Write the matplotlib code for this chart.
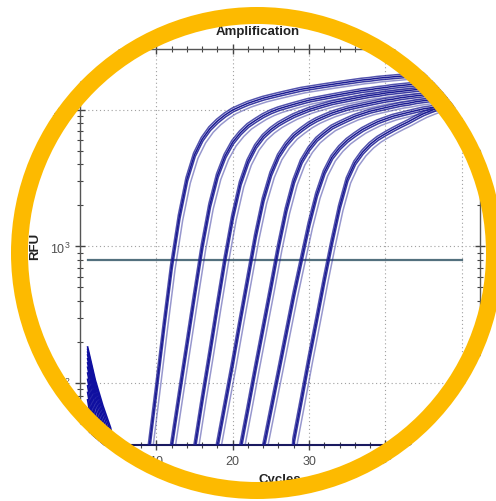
import numpy as np
import matplotlib
matplotlib.use("Agg")
import matplotlib.pyplot as plt
from matplotlib.path import Path
from matplotlib.patches import PathPatch, Circle
from matplotlib.ticker import MultipleLocator, LogLocator, NullFormatter

plt.rcParams['font.family'] = ['Liberation Sans', 'DejaVu Sans']

# amplification curves, one base curve per dilution group (RFU from the first rising cycle on)
G_START = [9, 12, 15, 18, 21, 24, 28]
G1_RFU = [32, 90, 260, 720, 1650, 3100, 4700, 6100, 7300, 8300, 9200, 10000, 10600, 11200,
          11700, 12200, 12600, 13000, 13400, 13800, 14200, 14500, 14800, 15100, 15400, 15700,
          16000, 16300, 16600, 16800, 17100, 17300, 17500, 17700, 17900, 18100, 18300, 18500,
          18600, 18800, 18900, 19000]
G2_RFU = [35, 82, 190, 440, 1000, 2000, 3300, 4600, 5800, 6800, 7700, 8400, 9100, 9700, 10200,
          10600, 11000, 11400, 11800, 12100, 12400, 12700, 13000, 13300, 13600, 13900, 14100,
          14400, 14600, 14900, 15100, 15300, 15500, 15700, 15900, 16100, 16200, 16400, 16500]
G3_RFU = [33, 75, 165, 370, 810, 1650, 2900, 4200, 5400, 6400, 7200, 7900, 8500, 9100, 9600,
          10100, 10500, 10900, 11300, 11600, 11900, 12200, 12500, 12800, 13000, 13300, 13500,
          13700, 13900, 14100, 14300, 14500, 14600, 14800, 14900, 15000]
G4_RFU = [35, 70, 140, 290, 590, 1200, 2200, 3400, 4600, 5600, 6500, 7200, 7900, 8500, 9000,
          9500, 9900, 10300, 10600, 10900, 11200, 11500, 11800, 12000, 12300, 12500, 12700,
          12900, 13100, 13300, 13400, 13600, 13700]
G5_RFU = [33, 65, 130, 255, 500, 1000, 1850, 3000, 4200, 5200, 6100, 6800, 7500, 8000, 8500,
          9000, 9400, 9800, 10100, 10400, 10700, 11000, 11200, 11500, 11700, 11900, 12100,
          12300, 12400, 12600]
G6_RFU = [33, 63, 120, 230, 440, 800, 1450, 2400, 3500, 4500, 5300, 6000, 6600, 7200, 7700,
          8200, 8600, 9000, 9300, 9600, 9900, 10200, 10400, 10700, 10900, 11100, 11300]
G7_RFU = [38, 75, 150, 290, 570, 1080, 1950, 3100, 4100, 4900, 5600, 6200, 6700, 7200, 7700,
          8200, 8800, 9400, 9900, 10400, 10900, 11300, 11700]
GROUPS = [G1_RFU, G2_RFU, G3_RFU, G4_RFU, G5_RFU, G6_RFU, G7_RFU]

# replicate wells: cycle offset and relative height against the group curve
REP_SHIFT = [-0.12, 0.0, 0.1, 0.45]
REP_SCALE = [1.03, 1.0, 0.97, 0.94]
REP_ALPHA = [0.75, 1.0, 0.85, 0.45]

# early cycles (1..5) of the wells, falling baseline
EARLY_CYCLES = [1, 2, 3, 4, 5]
EARLY_RFU = [
    [183, 105, 68, 47, 25], [176, 100, 64, 44, 22], [168, 94, 60, 40, 18],
    [160, 88, 55, 36, 15], [150, 82, 50, 33, 10], [140, 75, 45, 28, 8],
    [130, 68, 40, 24, 5], [118, 60, 36, 20, 5], [106, 53, 32, 15, 5],
    [95, 46, 27, 10, 5], [85, 40, 22, 8, 5], [75, 35, 18, 5, 5],
    [62, 30, 12, 5, 5], [50, 24, 8, 5, 5], [40, 18, 5, 5, 5],
]

THRESHOLD = 800
THR_RANGE = [1, 50]
BELOW = 5   # baseline value, below the plotted range

W, H = 496, 502
fig = plt.figure(figsize=(W / 100, H / 100), dpi=100)
ax = fig.add_axes([80 / W, 1 - 446 / H, 400 / W, 396 / H])

blue = '#1a1a92'
ax.plot(THR_RANGE, [THRESHOLD, THRESHOLD], color='#53707e', lw=1.6, zorder=2)

for row in EARLY_RFU:
    ax.plot(EARLY_CYCLES, row, color='#0f0fa0', lw=1.2, zorder=3)

for start, vals in zip(G_START, GROUPS):
    x = np.arange(start - 1, start + len(vals))
    y = np.array([BELOW] + vals, dtype=float)
    for sh, sc, al in zip(REP_SHIFT, REP_SCALE, REP_ALPHA):
        ax.plot(x + sh, y * sc, color=blue, lw=1.1, alpha=al, zorder=3,
                solid_joinstyle='round')

ax.set_yscale('log')
ax.set_xlim(0, 52.4)
ax.set_ylim(35, 28000)

ax.xaxis.set_major_locator(MultipleLocator(10))
ax.xaxis.set_minor_locator(MultipleLocator(2))
ax.yaxis.set_major_locator(LogLocator(base=10))
ax.yaxis.set_minor_locator(LogLocator(base=10, subs=np.arange(2, 10)))
ax.yaxis.set_minor_formatter(NullFormatter())
ax.set_xticks([10, 20, 30, 40, 50])
ax.set_xticklabels(['10', '20', '30', '40', '50'])

ax.tick_params(which='both', direction='inout', top=True, right=True,
               color='#444444', labelsize=9, labelcolor='#505050')
ax.tick_params(which='major', length=7, width=1)
ax.tick_params(which='minor', length=4.3, width=0.8)
ax.tick_params(which='both', axis='x', top=True)
for s in ax.spines.values():
    s.set_color('#555555')
    s.set_linewidth(1.0)
ax.spines['bottom'].set_color('#1a1a60')
ax.spines['bottom'].set_linewidth(1.5)

ax.grid(True, which='major', color='#a0a0a0', linestyle=(0, (1, 2.5)), lw=0.8)
ax.set_axisbelow(True)

fig.text(258 / W, 1 - 32 / H, 'Amplification', ha='center', va='center',
         fontsize=9.5, fontweight='bold', color='#222222')
fig.text(280 / W, 1 - 480 / H, 'Cycles', ha='center', va='center',
         fontsize=9.5, fontweight='bold', color='#222222')
fig.text(35 / W, 1 - 246 / H, 'RFU', ha='center', va='center', rotation=90,
         fontsize=9.5, fontweight='bold', color='#222222')

# round frame: white outside, orange ring
cx, cy = 257 / 100, (H - 254) / 100
r_in, r_out = 2.29, 2.46
t = np.linspace(0, 2 * np.pi, 400)
outer = [(0, 0), (W / 100, 0), (W / 100, H / 100), (0, H / 100), (0, 0)]
hole = list(zip(cx + r_out * np.cos(t)[::-1], cy + r_out * np.sin(t)[::-1]))
verts = outer + hole
codes = [Path.MOVETO] + [Path.LINETO] * 3 + [Path.CLOSEPOLY] + \
        [Path.MOVETO] + [Path.LINETO] * (len(hole) - 2) + [Path.CLOSEPOLY]
mask = PathPatch(Path(verts, codes), facecolor='white', edgecolor='none',
                 transform=fig.dpi_scale_trans, zorder=10)
fig.patches.append(mask)
ring = Circle((cx, cy), (r_in + r_out) / 2, facecolor='none', edgecolor='#fdba00',
              lw=(r_out - r_in) * 72, transform=fig.dpi_scale_trans, zorder=11)
fig.patches.append(ring)

fig.savefig('out.png', dpi=100)
